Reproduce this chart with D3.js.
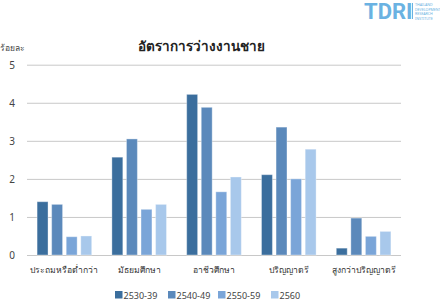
<!DOCTYPE html>
<html>
<head>
<meta charset="utf-8">
<script src="https://cdn.jsdelivr.net/npm/d3@7"></script>
<style>
  body { margin: 0; background: #fff; }
  text { font-family: "Noto Sans", "DejaVu Sans", sans-serif; }
</style>
</head>
<body>
<script>
    "use strict";

    var categories = ["ประถมหรือต่ำกว่า", "มัธยมศึกษา", "อาชีวศึกษา", "ปริญญาตรี", "สูงกว่าปริญญาตรี"];
    var seriesNames = ["2530-39", "2540-49", "2550-59", "2560"];
    var s1 = [1.40, 2.57, 4.22, 2.11, 0.18];
    var s2 = [1.33, 3.05, 3.88, 3.36, 0.97];
    var s3 = [0.48, 1.20, 1.66, 2.00, 0.49];
    var s4 = [0.50, 1.33, 2.05, 2.78, 0.62];
    var yTicks = [0, 1, 2, 3, 4, 5];
    var colors = ["#3b6e9d", "#5b89bb", "#7aa5d8", "#a8c8eb"];
    var series = [s1, s2, s3, s4];

    var width = 440, height = 308;
    var plotLeft = 27, plotRight = 401, plotTop = 64.7, plotBottom = 255;

    var svg = d3.select("body").append("svg")
        .attr("width", width)
        .attr("height", height);

    var yScale = d3.scaleLinear().domain([0, 5]).range([plotBottom, plotTop]);
    var xScale = d3.scaleBand().domain(categories).range([plotLeft, plotRight]).paddingInner(0.27).paddingOuter(0.135);
    var xSub = d3.scaleBand().domain(d3.range(4)).range([0, xScale.bandwidth()]).paddingInner(0.25);

    // gridlines
    svg.append("g").selectAll("line")
        .data(yTicks)
        .enter().append("line")
            .attr("x1", plotLeft).attr("x2", plotRight)
            .attr("y1", function(d) { return yScale(d) + 0.5; })
            .attr("y2", function(d) { return yScale(d) + 0.5; })
            .style("stroke", "#c8c8c8")
            .style("stroke-width", 1);

    svg.append("g").selectAll("text")
        .data(yTicks)
        .enter().append("text")
            .attr("x", 12)
            .attr("y", function(d) { return yScale(d) + 4; })
            .attr("text-anchor", "middle")
            .style("font-size", "10px")
            .style("fill", "#444")
            .text(function(d) { return d; });

    // bars
    var groups = svg.append("g").selectAll("g")
        .data(categories)
        .enter().append("g")
            .attr("transform", function(d) { return "translate(" + xScale(d) + ",0)"; });

    groups.selectAll("rect")
        .data(function(d, i) { return series.map(function(s, j) { return { v: s[i], j: j }; }); })
        .enter().append("rect")
            .attr("x", function(d) { return xSub(d.j); })
            .attr("width", xSub.bandwidth())
            .attr("y", function(d) { return yScale(d.v); })
            .attr("height", function(d) { return plotBottom - yScale(d.v); })
            .style("fill", function(d) { return colors[d.j]; })
            .style("stroke", "#ffffff")
            .style("stroke-opacity", 0.35)
            .style("stroke-width", 1);

    // x labels
    svg.append("g").selectAll("text")
        .data(categories)
        .enter().append("text")
            .attr("x", function(d) { return xScale(d) + xScale.bandwidth() / 2; })
            .attr("y", 273)
            .attr("text-anchor", "middle")
            .style("font-size", "8.6px")
            .style("fill", "#333")
            .text(function(d) { return d; });

    // titles
    svg.append("text")
        .attr("x", 201).attr("y", 51)
        .attr("text-anchor", "middle")
        .style("font-size", "13.5px")
        .style("font-weight", "bold")
        .style("fill", "#222")
        .text("อัตราการว่างงานชาย");

    svg.append("text")
        .attr("x", 0).attr("y", 51)
        .style("font-size", "8.5px")
        .style("fill", "#444")
        .text("ร้อยละ");

    // legend
    var legendX = [115, 168, 218, 271];
    var legend = svg.append("g").selectAll("g")
        .data(seriesNames)
        .enter().append("g")
            .attr("transform", function(d, i) { return "translate(" + legendX[i] + ",291)"; });
    legend.append("rect")
        .attr("width", 7.5).attr("height", 7.5)
        .style("fill", function(d, i) { return colors[i]; });
    legend.append("text")
        .attr("x", 8.5).attr("y", 7.5)
        .style("font-size", "9px")
        .style("fill", "#444")
        .text(function(d) { return d; });

    // logo
    svg.append("text")
        .attr("x", 364).attr("y", 19)
        .style("font-size", "22px")
        .style("font-weight", "bold")
        .style("font-family", "Roboto, sans-serif")
        .style("fill", "#6ab2e2")
        .text("TDRI");
    svg.append("line")
        .attr("x1", 412.5).attr("x2", 412.5).attr("y1", 3).attr("y2", 19)
        .style("stroke", "#6ab2e2").style("stroke-width", 1);
    var logoLines = ["THAILAND", "DEVELOPMENT", "RESEARCH", "INSTITUTE"];
    svg.append("g").selectAll("text")
        .data(logoLines)
        .enter().append("text")
            .attr("x", 415)
            .attr("y", function(d, i) { return 6 + i * 4.5; })
            .style("font-size", "3.6px")
            .style("fill", "#6ab2e2")
            .text(function(d) { return d; });
</script>
</body>
</html>
